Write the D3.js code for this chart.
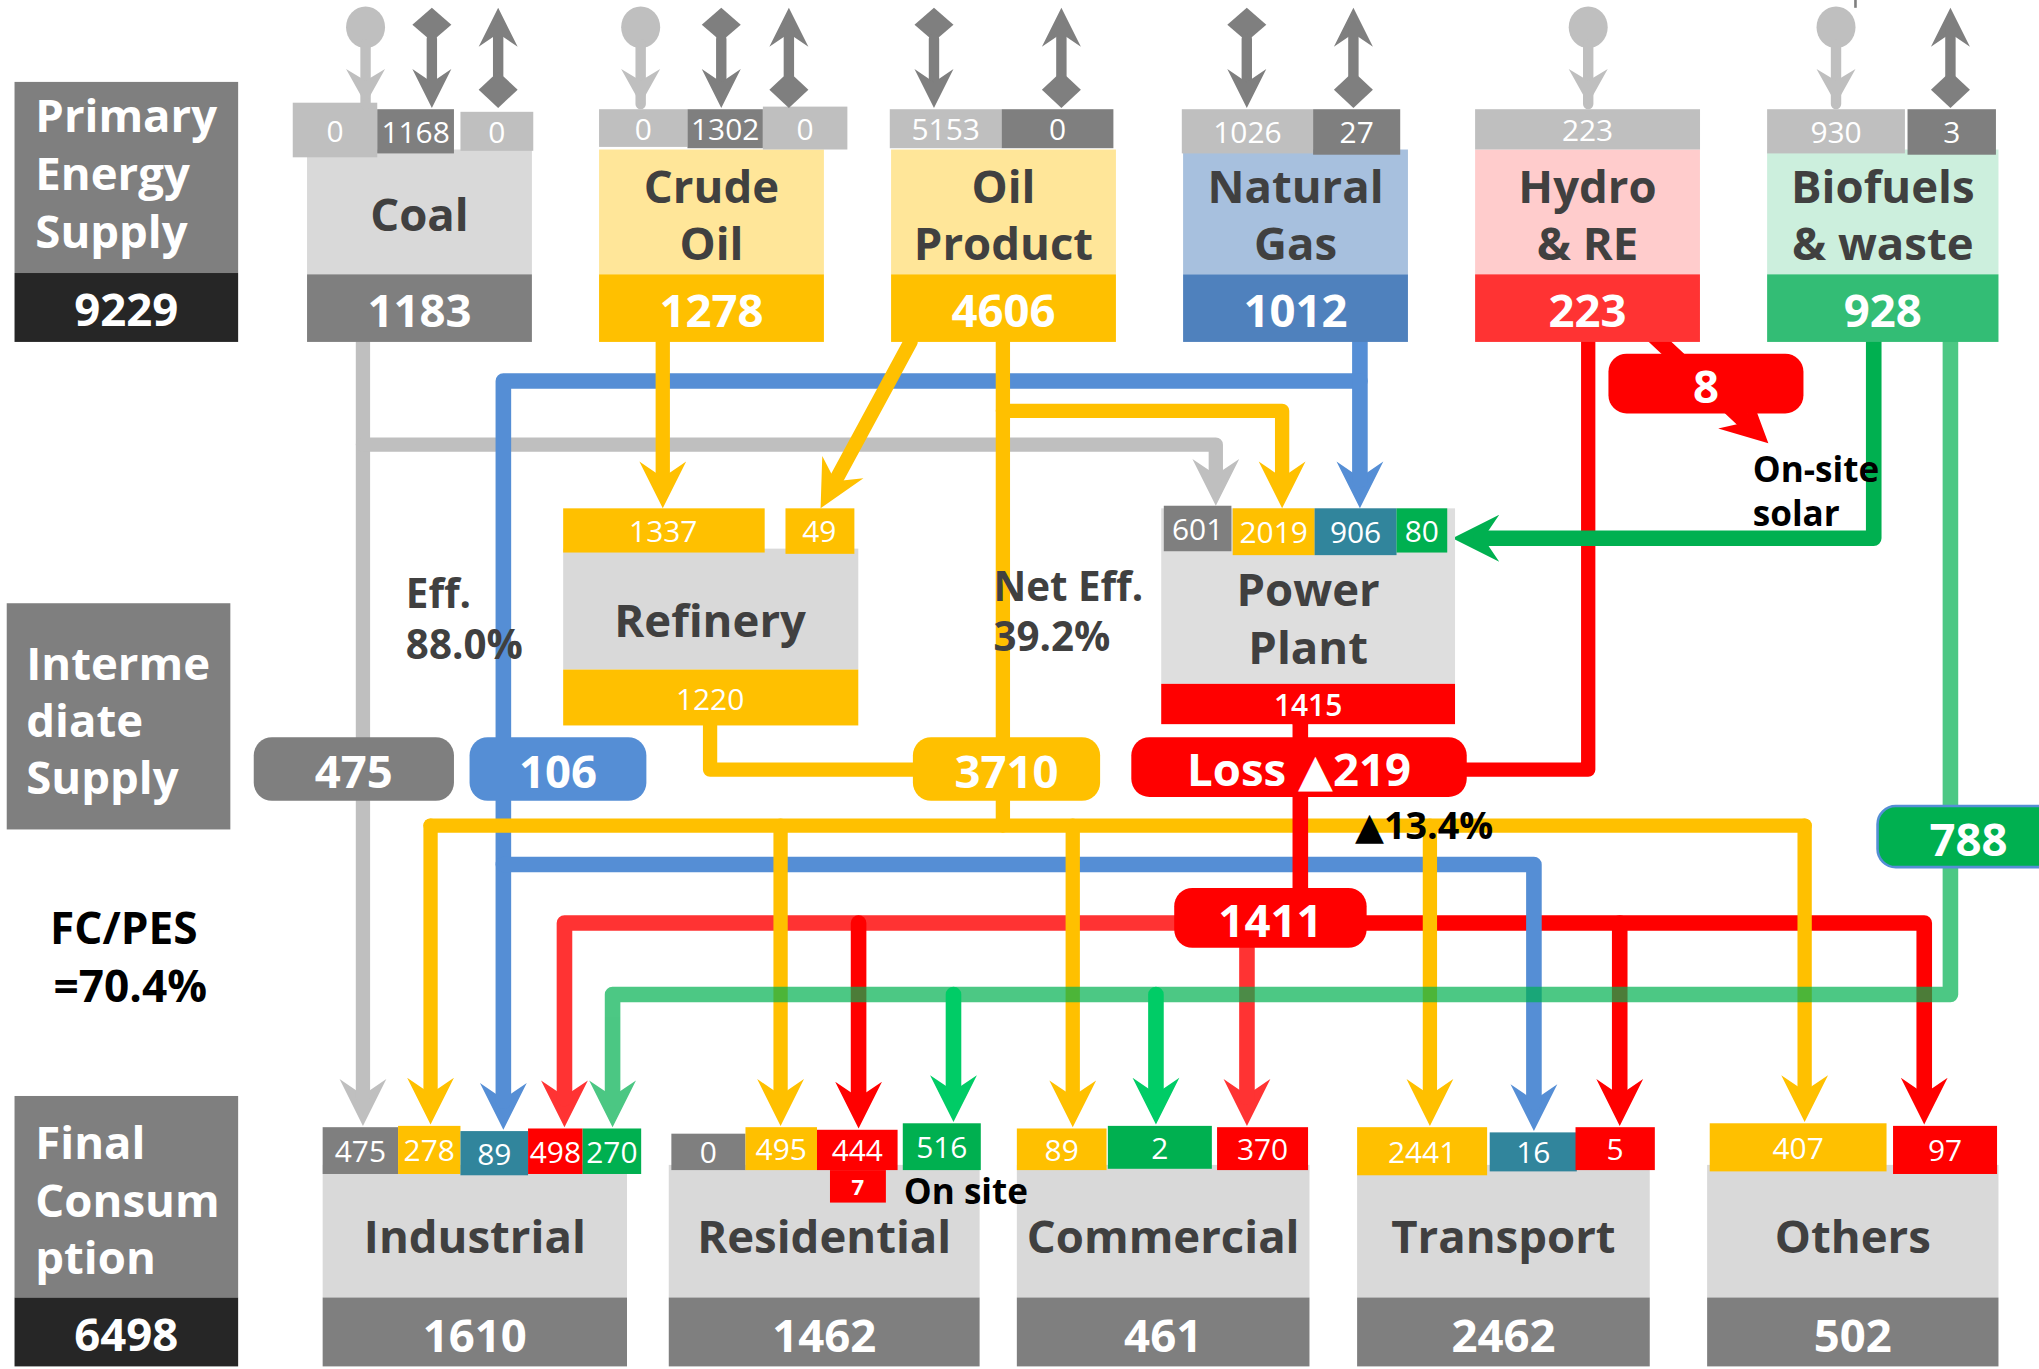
<!DOCTYPE html>
<html>
<head>
<meta charset="utf-8">
<script src="https://cdn.jsdelivr.net/npm/d3@7"></script>
<style>
  body { margin: 0; background: #fff; }
  svg { display: block; font-family: "Open Sans", "Noto Sans", "DejaVu Sans", sans-serif; }
</style>
</head>
<body>
<div class="chart"></div>
<script>
// ---- data ----
const sources = ["Coal", "Crude Oil", "Oil Product", "Natural Gas", "Hydro & RE", "Biofuels & waste"];
const sourceLines = [["Coal"], ["Crude", "Oil"], ["Oil", "Product"], ["Natural", "Gas"], ["Hydro", "& RE"], ["Biofuels", "& waste"]];
const sourceTotals = [1183, 1278, 4606, 1012, 223, 928];
const sourceSupply = [[0, 1168, 0], [0, 1302, 0], [5153, 0], [1026, 27], [223], [930, 3]];

const sectors = ["Industrial", "Residential", "Commercial", "Transport", "Others"];
const sectorTotals = [1610, 1462, 461, 2462, 502];
const sectorInputs = [[475, 278, 89, 498, 270], [0, 495, 444, 516], [89, 2, 370], [2441, 16, 5], [407, 97]];
const residentialOnsite = [7];

const refineryInputs = [1337, 49];
const refineryOutput = [1220];
const powerInputs = [601, 2019, 906, 80];
const powerOutput = [1415];

const badgeValues = [475, 106, 3710, 219, 1411, 788, 8];
const summaryValues = [9229, 6498];
const ratioLabels = ["Eff.", "88.0%", "Net Eff.", "39.2%", "FC/PES", "=70.4%", "\u25B213.4%"];

// ---- layout ----
const svgWidth = 2039, svgHeight = 1369;
const refW = 1568, refH = 1053;

const C = {
  dark: "#7f7f7f", light: "#bfbfbf", box: "#d9d9d9", black: "#262626", text: "#404040",
  yellow: "#ffc000", yellowL: "#ffe699", blue: "#558ed5", blueD: "#4f81bd", blueL: "#a7c0de",
  teal: "#31859c", red: "#ff0000", redM: "#ff3333", pink: "#ffcccc",
  green: "#00b050", greenL: "#ccefdd", greenM: "#33bd75", greenB: "#00cc66"
};

const srcFill = [[C.box, C.dark], [C.yellowL, C.yellow], [C.yellowL, C.yellow], [C.blueL, C.blueD], [C.pink, C.redM], [C.greenL, C.greenM]];
// [dx, w, y, h, fill] per supply value
const supplyBoxes = [
  [[-11, 65, 79, 42, C.light], [54, 59, 84, 34, C.dark], [118, 56, 86, 30, C.light]],
  [[0, 68, 84, 29, C.light], [68, 58, 84, 30, C.dark], [126, 65, 82, 33, C.light]],
  [[-1, 86, 84, 30, C.light], [85, 86, 84, 30, C.dark]],
  [[-1, 101, 84, 34, C.light], [100, 67, 84, 35, C.dark]],
  [[0, 173, 84, 31, C.light]],
  [[0, 106, 84, 34, C.light], [108, 68, 84, 35, C.dark]]
];
// [dx, kind] of the supply icons
const supplyIcons = [
  [[45, "prod"], [96, "imp"], [147, "exp"]],
  [[32, "prod"], [94, "imp"], [146, "exp"]],
  [[33, "imp"], [131, "exp"]],
  [[49, "imp"], [131, "exp"]],
  [[87, "prod"]],
  [[53, "prod"], [141, "exp"]]
];
// main sector box: [dx, extra width]
const secMain = [[0, 6], [1, 11], [3.5, -3], [0, -3], [4, -4]];
const secBoxes = [
  [[0, 58, 867, 36, C.dark], [58, 48, 866, 37, C.yellow], [106, 52, 870, 34, C.teal], [158, 42, 868, 35, C.red], [200, 45, 868, 35, C.green]],
  [[3, 57, 872, 28, C.dark], [60, 55, 867, 33, C.yellow], [115, 62, 869, 31, C.red], [181, 60, 864, 36, C.green]],
  [[3.5, 69, 868, 32, C.yellow], [73.5, 80, 866, 33, C.green], [157.5, 70, 867, 33, C.red]],
  [[0, 100, 867, 37, C.yellow], [102, 67, 871, 30, C.teal], [168, 61, 867, 33, C.red]],
  [[6, 136, 864, 37, C.yellow], [147, 80, 866, 37, C.red]]
];
const secArrowDx = [[31, 83, 139, 186, 223], [null, 87, 147, 220], [46.5, 110.5, 180.5], [56, 136, 202], [79, 171]];

const xs = d3.scaleBand().domain(sources).range([236, 1532]).paddingInner(0.23);
const xt = d3.scaleBand().domain(sectors).range([248, 1537]).paddingInner(0.14);

const svg = d3.select(".chart").append("svg")
  .attr("width", svgWidth)
  .attr("height", svgHeight)
  .attr("viewBox", `0 0 ${refW} ${refH}`);

function label(g, x, y, str, size, fill, weight, anchor) {
  return g.append("text")
    .attr("x", x).attr("y", y)
    .attr("dominant-baseline", "central")
    .attr("text-anchor", anchor || "middle")
    .attr("font-size", size)
    .attr("font-weight", weight || "bold")
    .attr("fill", fill)
    .text(str);
}

function rect(g, x, y, w, h, fill, rx) {
  return g.append("rect").attr("x", x).attr("y", y).attr("width", w).attr("height", h)
    .attr("fill", fill).attr("rx", rx || 0);
}

function arrowHead(g, tip, dir, fill, L, W) {
  L = L || 36; W = W || 18;
  const [tx, ty] = tip, [ux, uy] = dir, px = -uy, py = ux;
  const bx = tx - ux * L, by = ty - uy * L;
  const nx = tx - ux * L * 0.66, ny = ty - uy * L * 0.66;
  g.append("path")
    .attr("d", d3.line()([[tx, ty], [bx + px * W, by + py * W], [nx, ny], [bx - px * W, by - py * W]]) + "Z")
    .attr("fill", fill);
}

function flow(g, pts, color, arrow, width) {
  pts = pts.map(p => p.slice());
  if (arrow) {
    const a = pts[pts.length - 2], b = pts[pts.length - 1];
    const len = Math.hypot(b[0] - a[0], b[1] - a[1]);
    const dir = [(b[0] - a[0]) / len, (b[1] - a[1]) / len];
    arrowHead(g, b.slice(), dir, color);
    pts[pts.length - 1] = [b[0] - dir[0] * 22, b[1] - dir[1] * 22];
  }
  g.append("path")
    .attr("d", d3.line()(pts))
    .attr("fill", "none")
    .attr("stroke", color)
    .attr("stroke-width", width || 11)
    .attr("stroke-linejoin", "round")
    .attr("stroke-linecap", "round");
}

// anchors
const coalX = xs("Coal") + 43, crudeX = xs("Crude Oil") + 49, oilX = xs("Oil Product") + 86,
  oilDiagX = xs("Oil Product") + 15, gasX = xs("Natural Gas") + 136, hydroX = xs("Hydro & RE") + 87,
  bioX1 = xs("Biofuels & waste") + 82, bioX2 = xs("Biofuels & waste") + 141;
const sx = (i, j) => xt(sectors[i]) + secArrowDx[i][j];
const tip = (i, j) => secBoxes[i][j][2] - 1;
const yGas = 293, yOilPP = 316, yCoalPP = 342, yGreenPP = 414, yRef = 592,
  yYellow = 635, yBlue2 = 665, yRed = 710, yGreen = 765, ySrcBot = 263;

// ---- flows ----
const fl = svg.append("g");
// coal
flow(fl, [[coalX, ySrcBot], [coalX, tip(0, 0)]], C.light, true);
flow(fl, [[coalX, yCoalPP], [935, yCoalPP], [935, 389]], C.light, true);
// electricity and hydro
flow(fl, [[hydroX, ySrcBot], [hydroX, yRef], [1100, yRef]], C.red);
flow(fl, [[1000, yRed], [sx(0, 3), yRed], [sx(0, 3), tip(0, 3)]], C.redM, true, 12);
flow(fl, [[sx(1, 2), yRed], [sx(1, 2), tip(1, 2)]], C.red, true, 12);
flow(fl, [[1000, yRed], [sx(4, 1), yRed], [sx(4, 1), tip(4, 1)]], C.red, true, 12);
flow(fl, [[sx(3, 2), yRed], [sx(3, 2), tip(3, 2)]], C.red, true, 12);
flow(fl, [[sx(2, 2), 729], [sx(2, 2), tip(2, 2)]], C.redM, true, 12);
flow(fl, [[1265, 252], [1360, 341]], C.red, true, 12);
// gas
flow(fl, [[gasX, ySrcBot], [gasX, yGas], [sx(0, 2), yGas], [sx(0, 2), tip(0, 2)]], C.blue, true, 12);
flow(fl, [[gasX, yGas], [gasX, 391]], C.blue, true, 12);
flow(fl, [[sx(0, 2), yBlue2], [sx(3, 1), yBlue2], [sx(3, 1), tip(3, 1)]], C.blue, true, 12);
// oil
flow(fl, [[crudeX, ySrcBot], [crudeX, 391]], C.yellow, true);
flow(fl, [[oilDiagX, ySrcBot], [631, 391]], C.yellow, true);
flow(fl, [[oilX, ySrcBot], [oilX, yYellow]], C.yellow);
flow(fl, [[oilX, yOilPP], [986, yOilPP], [986, 391]], C.yellow, true);
flow(fl, [[546, 557], [546, yRef], [oilX, yRef]], C.yellow);
flow(fl, [[sx(0, 1), yYellow], [sx(4, 0), yYellow]], C.yellow);
[[0, 1], [1, 1], [2, 0], [3, 0], [4, 0]].forEach(([i, j]) =>
  flow(fl, [[sx(i, j), yYellow], [sx(i, j), tip(i, j)]], C.yellow, true));
// biofuels
flow(fl, [[bioX1, 262], [bioX1, yGreenPP], [1117, yGreenPP]], C.green, true, 12);
const gl = fl.append("g").attr("opacity", 0.7);
flow(gl, [[bioX2, 262], [bioX2, yGreen], [sx(0, 4), yGreen], [sx(0, 4), tip(0, 4)]], C.green, true, 12);
flow(fl, [[sx(1, 3), yGreen], [sx(1, 3), tip(1, 3)]], C.greenB, true, 12);
flow(fl, [[sx(2, 1), yGreen], [sx(2, 1), tip(2, 1)]], C.greenB, true, 12);
// power plant output
flow(fl, [[1000, 557], [1000, yRed]], C.red, false, 12);

// ---- left panels ----
const lp = svg.append("g");
rect(lp, 11, 63, 172, 147, C.dark);
rect(lp, 11, 210, 172, 53, C.black);
["Primary", "Energy", "Supply"].forEach((t, i) => label(lp, 27, 88 + i * 44.5, t, 35, "#fff", "bold", "start"));
label(lp, 97, 237, summaryValues[0], 35, "#fff");
rect(lp, 5, 464, 172, 174, C.dark);
["Interme", "diate", "Supply"].forEach((t, i) => label(lp, 20, 509 + i * 44, t, 35, "#fff", "bold", "start"));
rect(lp, 11, 843, 172, 155, C.dark);
rect(lp, 11, 998, 172, 53, C.black);
["Final", "Consum", "ption"].forEach((t, i) => label(lp, 27, 878 + i * 44, t, 35, "#fff", "bold", "start"));
label(lp, 97, 1025, summaryValues[1], 35, "#fff");
label(lp, 95, 713, ratioLabels[4], 34, "#000");
label(lp, 100, 758, ratioLabels[5], 34, "#000");

// ---- sources ----
const sg = svg.append("g");
sources.forEach((s, i) => {
  const x0 = xs(s), w = xs.bandwidth() + (i === 5 ? 5 : 0);
  rect(sg, x0, 115, w, 96, srcFill[i][0]);
  rect(sg, x0, 211, w, 52, srcFill[i][1]);
  const lines = sourceLines[i];
  lines.forEach((t, k) => label(sg, x0 + w / 2, lines.length === 1 ? 164 : 142 + k * 44, t, 35, C.text));
  label(sg, x0 + w / 2, 238, sourceTotals[i], 35, "#fff");
  sourceSupply[i].forEach((v, k) => {
    const [dx, bw, y, h, fill] = supplyBoxes[i][k];
    rect(sg, x0 + dx, y, bw, h, fill);
    label(sg, x0 + dx + bw / 2, y + h / 2, v, 23, "#fff", 400);
  });
  supplyIcons[i].forEach(([dx, kind]) => {
    const cx = x0 + dx;
    if (kind === "prod") {
      sg.append("ellipse").attr("cx", cx).attr("cy", 21).attr("rx", 15).attr("ry", 16).attr("fill", C.light);
      flow(sg, [[cx, 34], [cx, 80]], C.light, false, 8);
      arrowHead(sg, [cx, 80], [0, 1], C.light, 27, 15);
    } else if (kind === "imp") {
      sg.append("path").attr("d", `M${cx},6L${cx + 15},19L${cx},32L${cx - 15},19Z`).attr("fill", C.dark);
      flow(sg, [[cx, 30], [cx, 70]], C.dark, false, 8);
      arrowHead(sg, [cx, 83], [0, 1], C.dark, 30, 15);
    } else {
      arrowHead(sg, [cx, 6], [0, -1], C.dark, 30, 15);
      flow(sg, [[cx, 20], [cx, 58]], C.dark, false, 8);
      sg.append("path").attr("d", `M${cx},55L${cx + 15},69L${cx},83L${cx - 15},69Z`).attr("fill", C.dark);
    }
  });
});
sg.append("line").attr("x1", 1427).attr("x2", 1427).attr("y1", 0).attr("y2", 6)
  .attr("stroke", C.dark).attr("stroke-width", 2);

// ---- refinery ----
const rg = svg.append("g");
rect(rg, 433, 422, 227, 93, C.box);
rect(rg, 433, 391, 155, 34, C.yellow);
rect(rg, 604, 391, 53, 35, C.yellow);
label(rg, 510, 408, refineryInputs[0], 23, "#fff", 400);
label(rg, 630, 408, refineryInputs[1], 23, "#fff", 400);
rect(rg, 433, 515, 227, 43, C.yellow);
label(rg, 546, 537, refineryOutput[0], 23, "#fff", 400);
label(rg, 546, 476, "Refinery", 35, C.text);

// ---- power plant ----
const pg = svg.append("g");
rect(pg, 893, 391, 226, 135, "#dedede");
[[895, 52, 389, 35, C.dark], [948, 63, 391, 36, C.yellow], [1011, 63, 391, 36, C.teal], [1074, 39, 391, 34, C.green]]
  .forEach(([x, w, y, h, f], k) => {
    rect(pg, x, y, w, h, f);
    label(pg, x + w / 2, y + h / 2, powerInputs[k], 23, "#fff", 400);
  });
rect(pg, 893, 526, 226, 31, C.red);
label(pg, 1006, 542, powerOutput[0], 23, "#fff", 600);
label(pg, 1006, 452, "Power", 35, C.text);
label(pg, 1006, 497, "Plant", 35, C.text);

// ---- badges ----
const bg = svg.append("g");
const badgeLayout = [
  [195, 567, 154, 49, C.dark, "475"],
  [361, 567, 136, 49, C.blue, "106"],
  [702, 567, 144, 49, C.yellow, "3710"],
  [870, 567, 258, 46, C.red, "loss"],
  [903, 683, 148, 46, C.red, "1411"],
  [1444, 620, 140, 47, C.green, "788"],
  [1237, 272, 150, 46, C.red, "8"]
];
badgeLayout.forEach(([x, y, w, h, f, key], k) => {
  const r = rect(bg, x, y, w, h, f, 14);
  if (key === "788") r.attr("stroke", C.blue).attr("stroke-width", 2);
  const t = key === "loss" ? "Loss \u25B2" + badgeValues[k] : badgeValues[k];
  label(bg, x + w / 2, y + h / 2 + 1, t, 35, "#fff");
});

// ---- notes ----
const ng = svg.append("g");
label(ng, 312, 456, ratioLabels[0], 31, C.text, "bold", "start");
label(ng, 312, 495, ratioLabels[1], 31, C.text, "bold", "start");
label(ng, 764, 450, ratioLabels[2], 31, C.text, "bold", "start");
label(ng, 764, 489, ratioLabels[3], 31, C.text, "bold", "start");
label(ng, 1348, 360, "On-site", 27, "#000", "bold", "start");
label(ng, 1348, 394, "solar", 27, "#000", "bold", "start");
label(ng, 1042, 634, ratioLabels[6], 29, "#000", "bold", "start");

// ---- sectors ----
const tg = svg.append("g");
sectors.forEach((s, i) => {
  const x0 = xt(s), w = xt.bandwidth() + secMain[i][1], mx = x0 + secMain[i][0];
  rect(tg, mx, 896, w, 102, C.box);
  rect(tg, mx, 998, w, 53, C.dark);
  label(tg, mx + w / 2, 950, s, 35, C.text);
  label(tg, mx + w / 2, 1026, sectorTotals[i], 35, "#fff");
  sectorInputs[i].forEach((v, k) => {
    const [dx, bw, y, h, fill] = secBoxes[i][k];
    rect(tg, x0 + dx, y, bw, h, fill);
    label(tg, x0 + dx + bw / 2, y + h / 2, v, 23, "#fff", 400);
  });
});
const rx0 = xt("Residential");
rect(tg, rx0 + 125, 900, 43, 25, C.red);
label(tg, rx0 + 146.5, 912, residentialOnsite[0], 17, "#fff");
label(tg, 695, 915, "On site", 27, "#000", "bold", "start");
</script>
</body>
</html>
